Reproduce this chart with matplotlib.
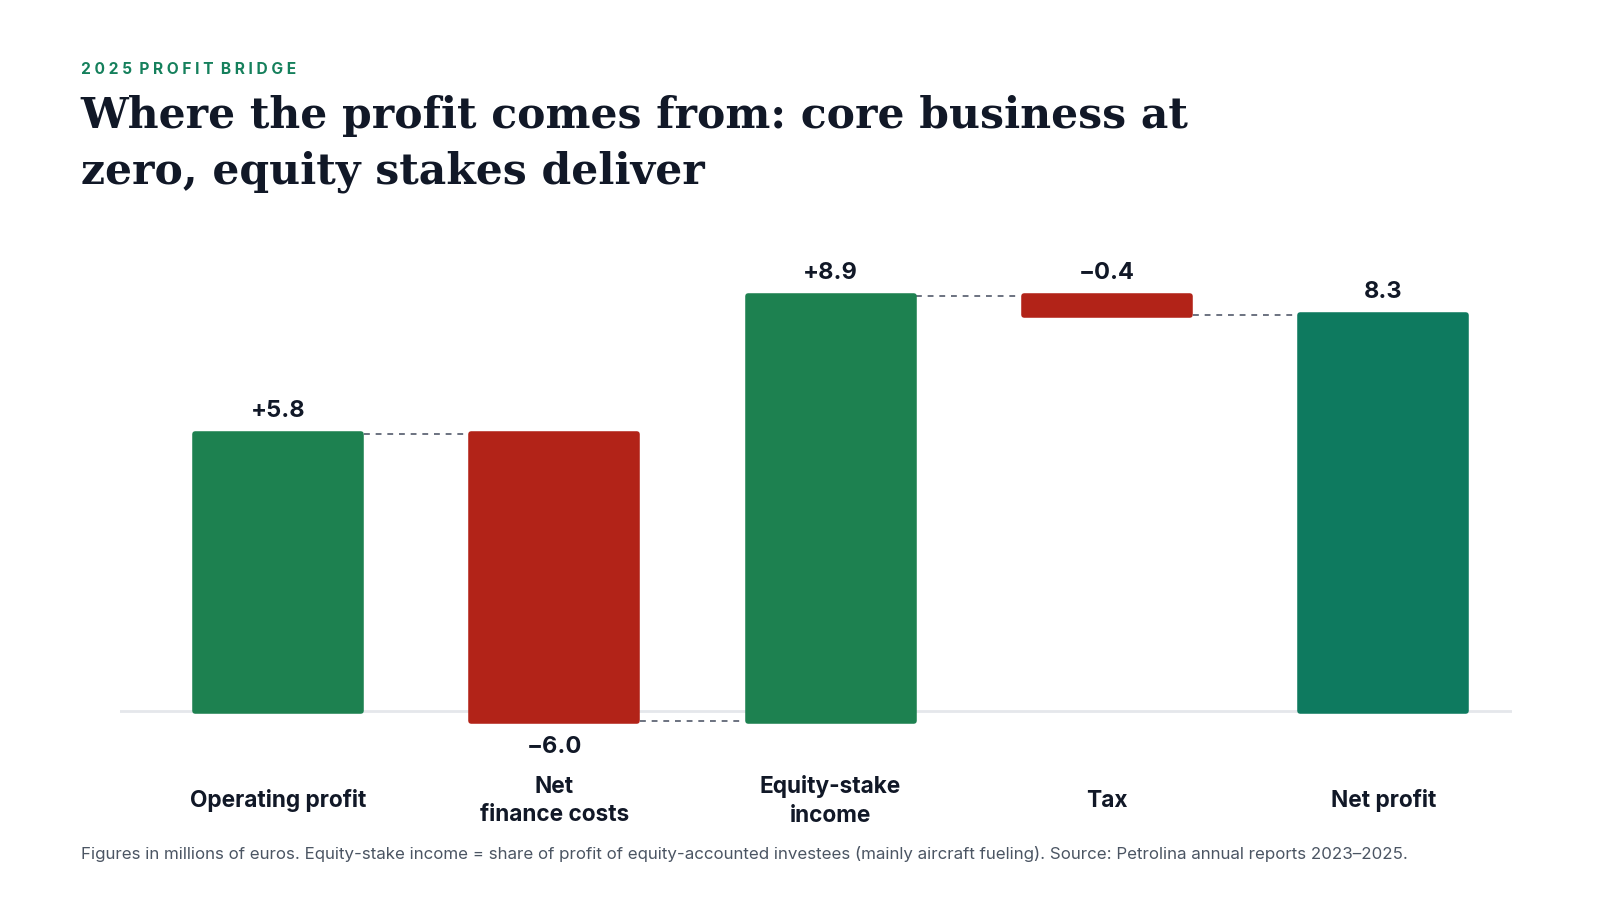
import matplotlib
matplotlib.use("Agg")
import matplotlib.pyplot as plt

# data (millions of euros)
categories = ["Operating profit", "Net\nfinance costs", "Equity-stake\nincome", "Tax", "Net profit"]
changes = [5.8, -6.0, 8.9, -0.4]
net_profit = 8.3
labels = ["+5.8", "\u22126.0", "+8.9", "\u22120.4", "8.3"]
label_below = [False, True, False, False, False]

GREEN = "#1d8150"
RED = "#b22318"
TEAL = "#0e7a5f"
INK = "#111827"
GREY = "#4b5563"

plt.rcParams["font.family"] = ["Inter", "DejaVu Sans"]

W, H = 1566, 881  # reference measured on this grid

fig = plt.figure(figsize=(16, 9), dpi=100)
ax = fig.add_axes([117 / W, 1 - 766 / H, 1363 / W, 537 / H])

# running totals for the bridge
bottoms, heights, colors = [], [], []
total = 0.0
for c in changes:
    if c >= 0:
        bottoms.append(total)
        colors.append(GREEN)
    else:
        bottoms.append(total + c)
        colors.append(RED)
    heights.append(abs(c))
    total += c
bottoms.append(0)
heights.append(net_profit)
colors.append(TEAL)

x = list(range(len(categories)))
w = 0.6
bars = ax.bar(x, heights, bottom=bottoms, width=w, color=colors,
              edgecolor=colors, linewidth=4, zorder=3)
for b in bars:
    b.set_joinstyle("round")

# connectors
levels = []
run = 0.0
for c in changes:
    run += c
    levels.append(run)
for i, lv in enumerate(levels):
    ax.plot([i + w / 2 + 0.01, i + 1 - w / 2 - 0.01], [lv, lv], ls=(0, (3, 3)),
            color="#6b7280", lw=1.4, zorder=2)

ax.axhline(0, color="#e5e7eb", lw=2, zorder=1)

# value labels
for i in x:
    top = bottoms[i] + heights[i]
    if label_below[i]:
        ax.annotate(labels[i], (i, bottoms[i]), xytext=(0, -19), textcoords="offset points",
                    ha="center", va="center", fontsize=17, fontweight="bold", color=INK)
    else:
        ax.annotate(labels[i], (i, top), xytext=(0, 16.5), textcoords="offset points",
                    ha="center", va="center", fontsize=17, fontweight="bold", color=INK)

ax.set_xlim(-0.573, 4.466)
ax.set_ylim(-1.5, 10)
ax.axis("off")

# category labels
for i, cat in enumerate(categories):
    fig.text(ax.transData.transform((i, 0))[0] / fig.bbox.width, 1 - 784 / H, cat,
             ha="center", va="center", fontsize=16.3, fontweight="bold", color=INK,
             linespacing=1.4)

fig.text(79 / W, 1 - 68 / H, "2 0 2 5  P R O F I T  B R I D G E",
         fontsize=11.2, fontweight="bold", color="#15805c", va="center")
fig.text(79 / W, 1 - 141 / H,
         "Where the profit comes from: core business at\nzero, equity stakes deliver",
         fontsize=30.6, fontweight="bold", family="DejaVu Serif", color=INK, va="center",
         linespacing=1.42)
fig.text(79 / W, 1 - 836 / H,
         "Figures in millions of euros. Equity-stake income = share of profit of equity-accounted "
         "investees (mainly aircraft fueling). Source: Petrolina annual reports 2023\u20132025.",
         fontsize=12.2, color=GREY, va="center")

fig.savefig("out.png", dpi=100, facecolor="white")
